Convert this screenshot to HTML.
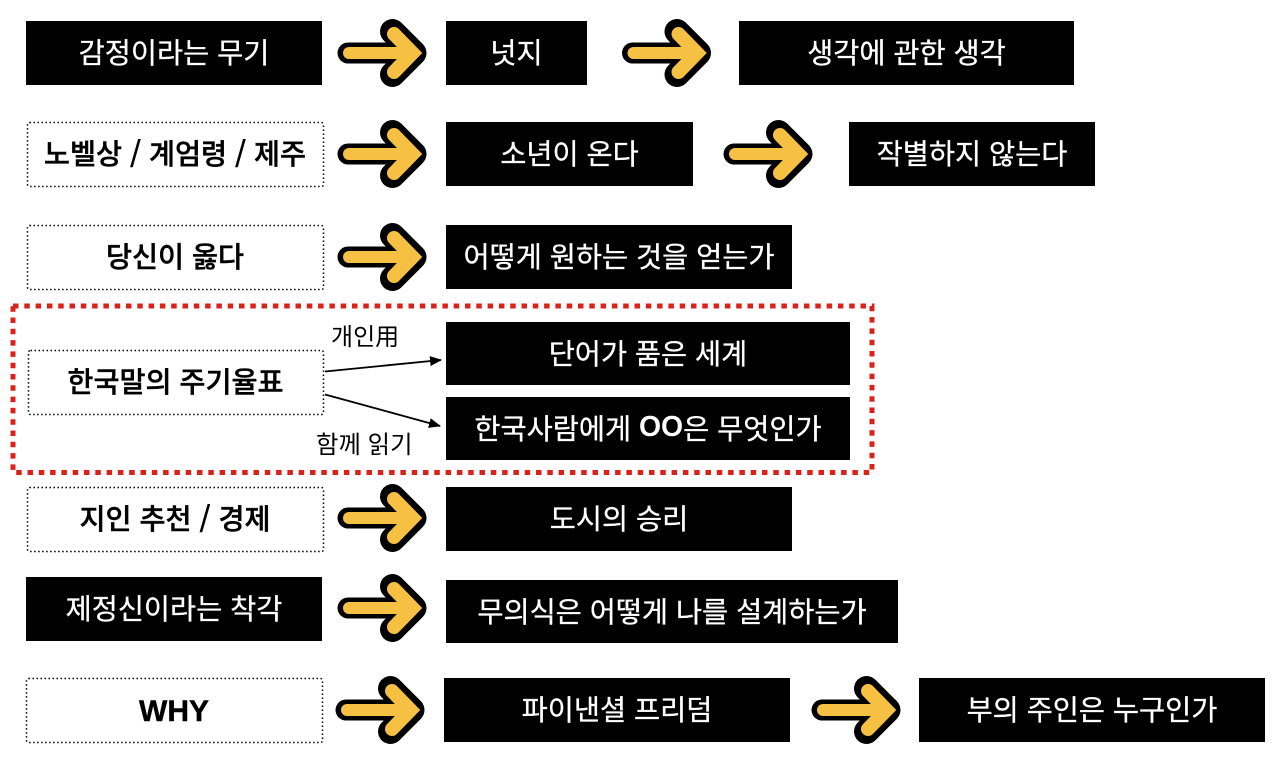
<!DOCTYPE html>
<html lang="ko"><head><meta charset="utf-8"><title>독서 지도</title>
<style>
html,body{margin:0;padding:0;background:#fff}
#p{position:relative;width:1280px;height:761px;overflow:hidden;font-family:"Liberation Sans","Noto Sans CJK KR",sans-serif}
.b{position:absolute;display:flex;align-items:center;justify-content:center;font-size:28.4px;font-weight:500;letter-spacing:0;white-space:nowrap;box-sizing:border-box;padding-bottom:3px}
.k{background:#000;color:#fff;font-weight:400;-webkit-text-stroke:.3px #fff}
.k b{-webkit-text-stroke:0}
.d{color:#000;font-size:28.3px;padding-bottom:4px;-webkit-text-stroke:.4px #000}
.s{font-family:"Noto Sans CJK KR",sans-serif}
.t{position:absolute;font-size:24px;color:#000;white-space:nowrap;line-height:30px}
svg{position:absolute;left:0;top:0}
</style></head><body><div id="p">
<svg width="1280" height="761" viewBox="0 0 1280 761">
<defs>
<g id="a">
<path d="M392.500 31.500L414 53L392.500 74.500" fill="none" stroke="#000" stroke-width="25" stroke-linecap="round" stroke-linejoin="round"/>
<path d="M348 53H412" fill="none" stroke="#000" stroke-width="21" stroke-linecap="round"/>
<path d="M349 53H410" fill="none" stroke="#f6c142" stroke-width="12" stroke-linecap="round"/>
<path d="M394 34L412.500 53L394 72" fill="none" stroke="#f6c142" stroke-width="14" stroke-linecap="round" stroke-linejoin="miter"/>
</g>
<marker id="m" markerWidth="12" markerHeight="10" refX="11" refY="5" orient="auto" markerUnits="userSpaceOnUse"><path d="M0 0L12 5L0 10Z" fill="#000"/></marker>
</defs>
<use href="#a"/>
<use href="#a" x="284.500"/>
<use href="#a" y="101"/>
<use href="#a" x="386" y="101"/>
<use href="#a" y="204"/>
<use href="#a" y="465"/>
<use href="#a" y="555"/>
<use href="#a" x="-2" y="657"/>
<use href="#a" x="474" y="657"/>
<g fill="none" stroke="#000" stroke-width="1.500" stroke-dasharray="1.500 2.500">
<rect x="27.500" y="122.500" width="296" height="64" rx="2"/>
<rect x="27.500" y="225.500" width="296" height="64" rx="2"/>
<rect x="28.500" y="350.500" width="295" height="64" rx="2"/>
<rect x="27.500" y="487.500" width="296" height="64" rx="2"/>
<rect x="26.500" y="678.500" width="296" height="64" rx="2"/>
</g>
<rect x="13" y="306" width="859" height="166.500" fill="none" stroke="#d8231a" stroke-width="5" stroke-dasharray="5.500 5.800"/>
<line x1="325" y1="371.500" x2="441" y2="360" stroke="#000" stroke-width="1.800" marker-end="url(#m)"/>
<line x1="325" y1="394.500" x2="440" y2="426" stroke="#000" stroke-width="1.800" marker-end="url(#m)"/>
</svg>
<div class="b k" style="left:26px;top:21px;width:296px;height:64px">감정이라는 무기</div>
<div class="b k" style="left:446px;top:21px;width:141px;height:64px">넛지</div>
<div class="b k" style="left:739px;top:21px;width:335px;height:64px">생각에 관한 생각</div>
<div class="b d s" style="left:27px;top:122px;width:296px;height:64px">노벨상 / 계엄령 / 제주</div>
<div class="b k" style="left:446px;top:122px;width:247px;height:64px">소년이 온다</div>
<div class="b k" style="left:849px;top:122px;width:246px;height:64px">작별하지 않는다</div>
<div class="b d" style="left:27px;top:225px;width:296px;height:64px">당신이 옳다</div>
<div class="b k" style="left:446px;top:225px;width:346px;height:64px">어떻게 원하는 것을 얻는가</div>
<div class="b d" style="left:28px;top:350px;width:295px;height:64px">한국말의 주기율표</div>
<div class="b k" style="left:446px;top:322px;width:404px;height:63px">단어가 품은 세계</div>
<div class="b k" style="left:446px;top:397px;width:404px;height:63px">한국사람에게&nbsp;<b>OO</b>은 무엇인가</div>
<div class="t" style="left:331px;top:323px">개인用</div>
<div class="t" style="left:316px;top:431px;font-size:24.400px">함께 읽기</div>
<div class="b d s" style="left:27px;top:487px;width:296px;height:64px">지인 추천 / 경제</div>
<div class="b k" style="left:446px;top:487px;width:346px;height:64px">도시의 승리</div>
<div class="b k" style="left:26px;top:577px;width:296px;height:64px">제정신이라는 착각</div>
<div class="b k" style="left:446px;top:580px;width:452px;height:63px">무의식은 어떻게 나를 설계하는가</div>
<div class="b d" style="left:26px;top:678px;width:296px;height:64px;font-weight:700;font-size:30px;padding-bottom:0;padding-top:3px">WHY</div>
<div class="b k" style="left:444px;top:678px;width:346px;height:64px">파이낸셜 프리덤</div>
<div class="b k" style="left:919px;top:678px;width:346px;height:64px">부의 주인은 누구인가</div>
</div></body></html>
